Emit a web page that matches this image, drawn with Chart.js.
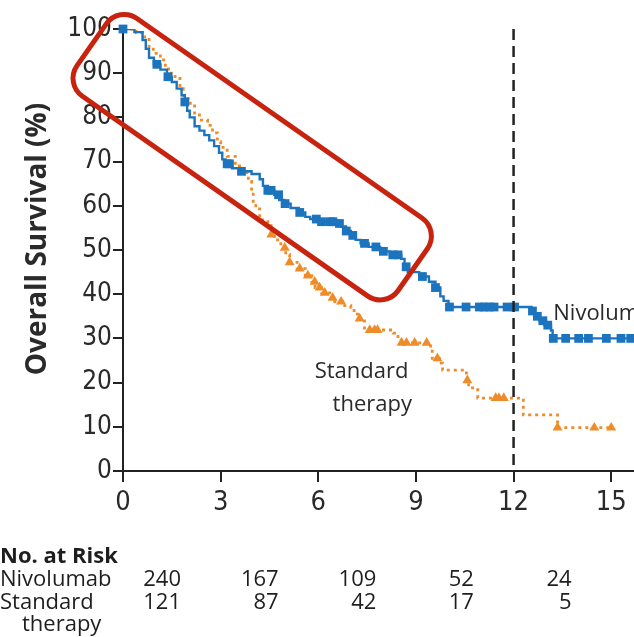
<!DOCTYPE html>
<html>
<head>
<meta charset="utf-8">
<script src="https://cdn.jsdelivr.net/npm/chart.js@4.4.0/dist/chart.umd.min.js"></script>
<style>
 html, body { margin: 0; padding: 0; background: #fff; }
</style>
</head>
<body>
<canvas id="kmChart" width="634" height="637"></canvas>
<script>
'use strict';

// Kaplan-Meier steps: time (months) at which survival drops, and survival (%) after the drop
var nivoTimes = [0, 0.35, 0.6, 0.7, 0.8, 0.95, 1.15, 1.35, 1.5, 1.65, 1.8, 1.9, 1.97, 2.05, 2.2, 2.35, 2.5, 2.65, 2.8, 2.95, 3.05, 3.15, 3.35, 3.6, 3.95, 4.2, 4.3, 4.45, 4.65, 4.8, 4.95, 5.15, 5.4, 5.6, 5.75, 5.95, 6.5, 6.7, 6.85, 7.0, 7.15, 7.3, 7.55, 7.9, 8.2, 8.55, 8.65, 8.75, 9.1, 9.4, 9.6, 9.75, 9.85, 10.0, 12.55, 12.65, 12.8, 12.95, 13.15, 13.2, 15.7];
var nivoSurv  = [100, 99.3, 97.5, 95.5, 93.5, 92, 90.8, 89.2, 88, 86.5, 85, 83.5, 81.5, 80, 78, 77, 76, 74.8, 73.5, 72, 70.5, 69.5, 68.5, 67.8, 67.2, 66, 64.5, 63.5, 62.5, 61.3, 60.5, 59.5, 58.5, 57.5, 57, 56.4, 56, 55.3, 54.3, 53.3, 52.3, 51.5, 50.7, 49.7, 48.9, 48, 46.2, 45, 44, 42.8, 41.5, 39.5, 38.5, 37.1, 36.2, 35, 34, 33, 31.8, 30, 30];

var stdTimes = [0, 0.4, 0.6, 0.8, 0.93, 1.15, 1.3, 1.4, 1.6, 1.75, 1.85, 2.0, 2.2, 2.35, 2.6, 2.75, 2.9, 3.0, 3.2, 3.45, 3.7, 3.85, 3.95, 4.0, 4.08, 4.2, 4.45, 4.55, 4.65, 4.85, 5.0, 5.12, 5.35, 5.6, 5.8, 5.9, 6.1, 6.35, 6.45, 6.75, 7.0, 7.1, 7.27, 7.42, 8.3, 8.45, 8.55, 9.45, 9.5, 9.72, 9.82, 10.55, 10.62, 10.9, 12.3, 13.35, 15.0];
var stdSurv  = [100, 99.2, 98.2, 96, 94.5, 93, 91, 90, 88.8, 86.5, 85, 83.2, 81, 79.4, 78.2, 76.5, 74.5, 73.2, 71.2, 69, 67.5, 65.5, 63, 61, 59.3, 56.8, 55.5, 53.5, 52.3, 50.5, 49, 47.2, 45.8, 44.2, 42.8, 41.5, 40.3, 39.2, 38.3, 37.4, 37, 35.5, 34.5, 31.9, 31.2, 30, 29, 27.5, 25.5, 24.4, 22.8, 20.5, 18.8, 16.5, 12.7, 9.8, 9.8];

// censored observations (months)
var nivoCensor = [0, 1.04, 1.38, 1.9, 3.2, 3.27, 3.64, 4.45, 4.55, 4.78, 4.98, 5.43, 5.94, 6.1, 6.37, 6.45, 6.65, 6.86, 7.06, 7.42, 7.77, 8.0, 8.29, 8.45, 8.7, 9.2, 9.6, 10.03, 10.54, 10.95, 11.1, 11.25, 11.4, 11.8, 12.03, 12.58, 12.73, 12.9, 13.05, 13.22, 13.6, 14.0, 14.3, 14.85, 15.3, 15.6];
var stdCensor  = [4.56, 4.97, 5.12, 5.43, 5.68, 5.89, 6.04, 6.2, 6.44, 6.7, 7.27, 7.58, 7.73, 7.82, 8.56, 8.71, 8.96, 9.33, 9.66, 10.58, 11.45, 11.55, 11.7, 13.35, 14.48, 15.0];

// number at risk table
var riskTimes = [0, 3, 6, 9, 12];
var nivoRisk  = [240, 167, 109, 52, 24];
var stdRisk   = [121, 87, 42, 17, 5];

var xTicks = [0, 3, 6, 9, 12, 15];
var landmark = 12;

var BLUE = '#1b74bd';
var ORANGE = '#ee8c2a';
var INK = '#222';
var TICK_FONT = "'Liberation Sans Narrow', 'DejaVu Sans Condensed', sans-serif";
var TEXT_FONT = "'Open Sans', 'Noto Sans', sans-serif";

function toPoints(times, surv) {
  return times.map(function (t, i) { return { x: t, y: surv[i] }; });
}

// survival of the step curve at time t
function survAt(times, surv, t) {
  var s = surv[0];
  for (var i = 0; i < times.length; i++) {
    if (times[i] <= t) s = surv[i];
  }
  return s;
}

function censorPoints(censor, times, surv) {
  return censor.map(function (t) { return { x: t, y: survAt(times, surv, t) }; });
}

var overlay = {
  id: 'overlay',
  afterDatasetsDraw: function (chart) {
    var ctx = chart.ctx, xs = chart.scales.x, ys = chart.scales.y, area = chart.chartArea;
    ctx.save();

    // 12-month landmark
    ctx.strokeStyle = INK;
    ctx.lineWidth = 2.5;
    ctx.setLineDash([11, 6]);
    ctx.beginPath();
    ctx.moveTo(xs.getPixelForValue(landmark), area.top);
    ctx.lineTo(xs.getPixelForValue(landmark), area.bottom);
    ctx.stroke();
    ctx.setLineDash([]);

    // curve labels
    ctx.fillStyle = '#2a2a2a';
    ctx.font = '22px ' + TEXT_FONT;
    ctx.textBaseline = 'middle';
    ctx.textAlign = 'left';
    ctx.fillText('Nivolumab', xs.getPixelForValue(13.22), ys.getPixelForValue(35.5));
    ctx.fillText('Standard', xs.getPixelForValue(5.89), ys.getPixelForValue(22.4));
    ctx.fillText('therapy', xs.getPixelForValue(6.44), ys.getPixelForValue(14.9));

    // highlight box around the early part of the curves
    var cx = xs.getPixelForValue(3.97), cy = ys.getPixelForValue(71.0);
    var w = 392, h = 95, r = 22;
    ctx.translate(cx, cy);
    ctx.rotate(35 * Math.PI / 180);
    ctx.strokeStyle = '#c8230f';
    ctx.lineWidth = 5;
    ctx.beginPath();
    ctx.roundRect(-w / 2, -h / 2, w, h, r);
    ctx.stroke();
    ctx.restore();
  },
  afterDraw: function (chart) {
    var ctx = chart.ctx, xs = chart.scales.x;
    ctx.save();
    ctx.fillStyle = '#1e1e1e';

    // y axis title
    ctx.save();
    ctx.translate(38, 239);
    ctx.rotate(-Math.PI / 2);
    ctx.textAlign = 'center';
    ctx.textBaseline = 'middle';
    ctx.fillStyle = '#2a2a2a';
    ctx.font = 'bold 28px ' + TEXT_FONT;
    ctx.fillText('Overall Survival (%)', 0, 0);
    ctx.restore();

    ctx.textBaseline = 'alphabetic';
    ctx.textAlign = 'left';
    ctx.font = 'bold 22px ' + TEXT_FONT;
    ctx.fillText('No. at Risk', 0, 563);
    ctx.font = '22px ' + TEXT_FONT;
    ctx.fillText('Nivolumab', 0, 586);
    ctx.fillText('Standard', 0, 609);
    ctx.fillText('therapy', 22, 631);
    ctx.textAlign = 'right';
    riskTimes.forEach(function (t, i) {
      var x = xs.getPixelForValue(t) + 58;
      ctx.fillText(String(nivoRisk[i]), x, 586);
      ctx.fillText(String(stdRisk[i]), x, 609);
    });
    ctx.restore();
  }
};

new Chart('kmChart', {
  type: 'line',
  data: {
    datasets: [
      {
        label: 'Nivolumab censored',
        data: censorPoints(nivoCensor, nivoTimes, nivoSurv),
        showLine: false,
        pointStyle: 'rect',
        pointRadius: 6.2,
        pointBackgroundColor: BLUE,
        pointBorderWidth: 0,
        clip: false
      },
      {
        label: 'Nivolumab',
        data: toPoints(nivoTimes, nivoSurv),
        stepped: true,
        borderColor: BLUE,
        borderWidth: 2.4,
        pointRadius: 0,
        fill: false
      },
      {
        label: 'Standard therapy censored',
        data: censorPoints(stdCensor, stdTimes, stdSurv),
        showLine: false,
        pointStyle: 'triangle',
        pointRadius: 5.8,
        pointBackgroundColor: ORANGE,
        pointBorderWidth: 0
      },
      {
        label: 'Standard therapy',
        data: toPoints(stdTimes, stdSurv),
        stepped: true,
        borderColor: ORANGE,
        borderWidth: 2.8,
        borderDash: [3, 4],
        pointRadius: 0,
        fill: false
      }
    ]
  },
  options: {
    responsive: false,
    animation: false,
    layout: { autoPadding: false, padding: { top: 29, left: 0, right: 0, bottom: 0 } },
    plugins: {
      legend: { display: false },
      tooltip: { enabled: false }
    },
    scales: {
      x: {
        type: 'linear',
        min: 0,
        max: 15.7,
        afterBuildTicks: function (scale) {
          scale.ticks = xTicks.map(function (v) { return { value: v }; });
        },
        afterFit: function (scale) {
          scale.height = 166;
          scale.paddingLeft = 0;
          scale.paddingRight = 0;
        },
        grid: { drawOnChartArea: false, drawTicks: true, tickLength: 11, color: INK, lineWidth: 2 },
        border: { display: true, color: INK, width: 2 },
        ticks: { color: '#2a2a2a', padding: 5, maxRotation: 0, font: { family: TICK_FONT, size: 27 } }
      },
      y: {
        min: 0,
        max: 100,
        afterFit: function (scale) { scale.width = 123; },
        grid: { drawOnChartArea: false, drawTicks: true, tickLength: 10, color: INK, lineWidth: 2 },
        border: { display: true, color: INK, width: 2 },
        ticks: { stepSize: 10, color: '#2a2a2a', padding: 1, font: { family: TICK_FONT, size: 26 } }
      }
    }
  },
  plugins: [overlay]
});
</script>
</body>
</html>
